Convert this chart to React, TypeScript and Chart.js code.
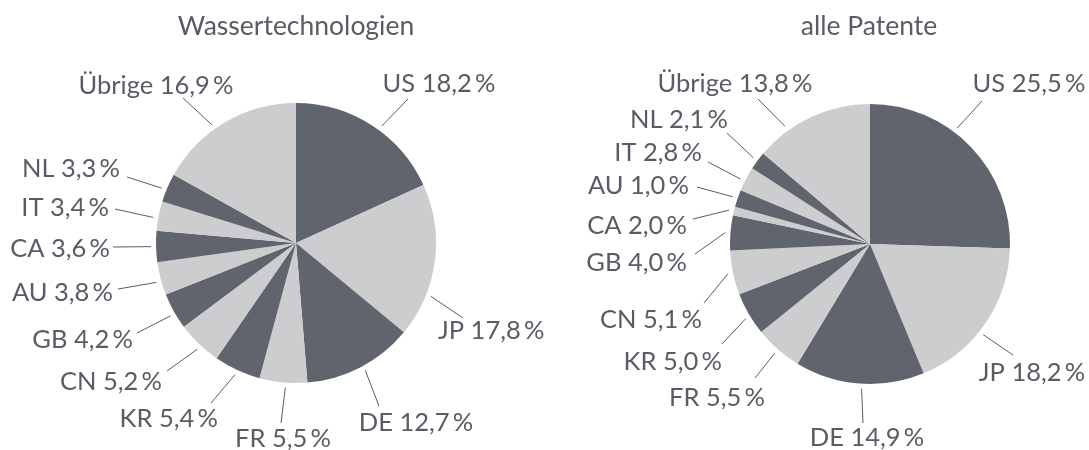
import React, { useEffect, useRef } from "react";
import { Chart, registerables } from "chart.js";

Chart.register(...registerables);

// ---- data ----
const categories = ["US", "JP", "DE", "FR", "KR", "CN", "GB", "AU", "CA", "IT", "NL", "Übrige"];
const wasserValues = [18.2, 17.8, 12.7, 5.5, 5.4, 5.2, 4.2, 3.8, 3.6, 3.4, 3.3, 16.9];
const patenteValues = [25.5, 18.2, 14.9, 5.5, 5.0, 5.1, 4.0, 1.0, 2.0, 2.8, 2.1, 13.8];
const titles = ["Wassertechnologien", "alle Patente"];

// ---- styling ----
const DARK = "#60646c";
const LIGHT = "#cdcdd0";
const TEXT = "#585c64";
const FONT = "Lato, 'Noto Sans', sans-serif";

// label placement (relative to pie centre): line outer end (ox, oy), text anchor (tx, ty),
// alignment, and shift of the leader-line start angle (degrees)
type Place = { ox: number; oy: number; tx: number; ty: number; align: CanvasTextAlign; shift: number };
const wasserPlaces: Place[] = [
  { ox: 112, oy: -144, tx: 143, ty: -160, align: "center", shift: 3.5 },
  { ox: 167, oy: 75, tx: 142, ty: 87, align: "left", shift: 14 },
  { ox: 83, oy: 163, tx: 120, ty: 179, align: "center", shift: -1 },
  { ox: -15, oy: 180, tx: -13, ty: 195, align: "center", shift: -1 },
  { ox: -85, oy: 160, tx: -78, ty: 175, align: "right", shift: 0 },
  { ox: -129, oy: 128, tx: -134, ty: 138, align: "right", shift: -1 },
  { ox: -159, oy: 90, tx: -163, ty: 96, align: "right", shift: -1 },
  { ox: -178, oy: 46, tx: -183, ty: 49, align: "right", shift: -1 },
  { ox: -183, oy: 4, tx: -186, ty: 5, align: "right", shift: 0 },
  { ox: -181, oy: -34, tx: -187, ty: -36, align: "right", shift: -1 },
  { ox: -169, oy: -66, tx: -176, ty: -75, align: "right", shift: -1 },
  { ox: -113, oy: -145, tx: -140, ty: -158, align: "center", shift: -5 },
];
const patentePlaces: Place[] = [
  { ox: 112, oy: -143, tx: 159, ty: -161, align: "center", shift: -9 },
  { ox: 143, oy: 111, tx: 162, ty: 128, align: "center", shift: 4 },
  { ox: -7, oy: 179, tx: -3, ty: 193, align: "center", shift: -1 },
  { ox: -115, oy: 134, tx: -105, ty: 153, align: "right", shift: 0 },
  { ox: -148, oy: 100, tx: -148, ty: 117, align: "right", shift: -1 },
  { ox: -166, oy: 59, tx: -168, ty: 75, align: "right", shift: 0 },
  { ox: -175, oy: 10, tx: -183, ty: 18, align: "right", shift: 0 },
  { ox: -173, oy: -57, tx: -181, ty: -59, align: "right", shift: 5.4 },
  { ox: -177, oy: -25, tx: -183, ty: -19, align: "right", shift: -5.5 },
  { ox: -162, oy: -82, tx: -168, ty: -92, align: "right", shift: -1 },
  { ox: -143, oy: -111, tx: -142, ty: -125, align: "right", shift: 0 },
  { ox: -112, oy: -145, tx: -135, ty: -161, align: "center", shift: -11 },
];

const fmt = (cat: string, v: number) => `${cat} ${v.toFixed(1).replace(".", ",")}\u2009%`;

const labelPlugin = {
  id: "pieLabels",
  afterDraw(chart: any, _args: any, opts: any) {
    const ctx = chart.ctx as CanvasRenderingContext2D;
    const meta = chart.getDatasetMeta(0);
    const values: number[] = chart.data.datasets[0].data;
    const cats: string[] = chart.data.labels;
    const places: Place[] = opts.places;
    ctx.save();
    // title
    ctx.fillStyle = TEXT;
    ctx.font = `${opts.titleSize}px ${FONT}`;
    ctx.textAlign = "center";
    ctx.textBaseline = "alphabetic";
    ctx.fillText(opts.title, opts.titleX, opts.titleY);
    // labels
    ctx.font = `${opts.labelSize}px ${FONT}`;
    ctx.strokeStyle = TEXT;
    ctx.lineWidth = 1;
    meta.data.forEach((arc: any, i: number) => {
      const p = arc.getProps(["x", "y", "startAngle", "endAngle", "outerRadius"], true);
      const pl = places[i];
      const mid = (p.startAngle + p.endAngle) / 2 + (pl.shift * Math.PI) / 180;
      const r0 = p.outerRadius + 5;
      const x0 = p.x + Math.cos(mid) * r0;
      const y0 = p.y + Math.sin(mid) * r0;
      ctx.beginPath();
      ctx.moveTo(x0, y0);
      ctx.lineTo(p.x + pl.ox, p.y + pl.oy);
      ctx.stroke();
      ctx.textAlign = pl.align;
      ctx.fillText(fmt(cats[i], values[i]), p.x + pl.tx, p.y + pl.ty + 9);
    });
    ctx.restore();
  },
};

type PieProps = {
  values: number[];
  places: Place[];
  title: string;
  titleX: number;
  width: number;
  pad: { left: number; right: number; top: number; bottom: number };
};

function PieChart({ values, places, title, titleX, width, pad }: PieProps) {
  const ref = useRef<HTMLCanvasElement>(null);
  useEffect(() => {
    if (!ref.current) return;
    const chart = new Chart(ref.current, {
      type: "pie",
      data: {
        labels: categories,
        datasets: [
          {
            data: values,
            backgroundColor: categories.map((_, i) => (i % 2 === 0 ? DARK : LIGHT)),
            borderWidth: 0,
            hoverOffset: 0,
            offset: 0,
          },
        ],
      },
      options: {
        animation: false,
        responsive: false,
        events: [],
        layout: { padding: pad },
        plugins: {
          legend: { display: false },
          tooltip: { enabled: false },
          title: { display: false },
          pieLabels: { places, title, titleX, titleY: 35, titleSize: 26.5, labelSize: 25.5 },
        } as any,
      },
      plugins: [labelPlugin],
    });
    return () => chart.destroy();
  }, []);
  return <canvas ref={ref} width={width} height={450} style={{ display: "block", width, height: 450 }} />;
}

export default function App() {
  return (
    <div style={{ position: "absolute", left: 0, top: 0, width: 1089, height: 450, background: "#fff", display: "flex" }}>
      <PieChart
        values={wasserValues}
        places={wasserPlaces}
        title={titles[0]}
        titleX={296}
        width={545}
        pad={{ left: 156, right: 109, top: 103, bottom: 67 }}
      />
      <PieChart
        values={patenteValues}
        places={patentePlaces}
        title={titles[1]}
        titleX={324}
        width={544}
        pad={{ left: 185, right: 79, top: 104, bottom: 66 }}
      />
    </div>
  );
}
